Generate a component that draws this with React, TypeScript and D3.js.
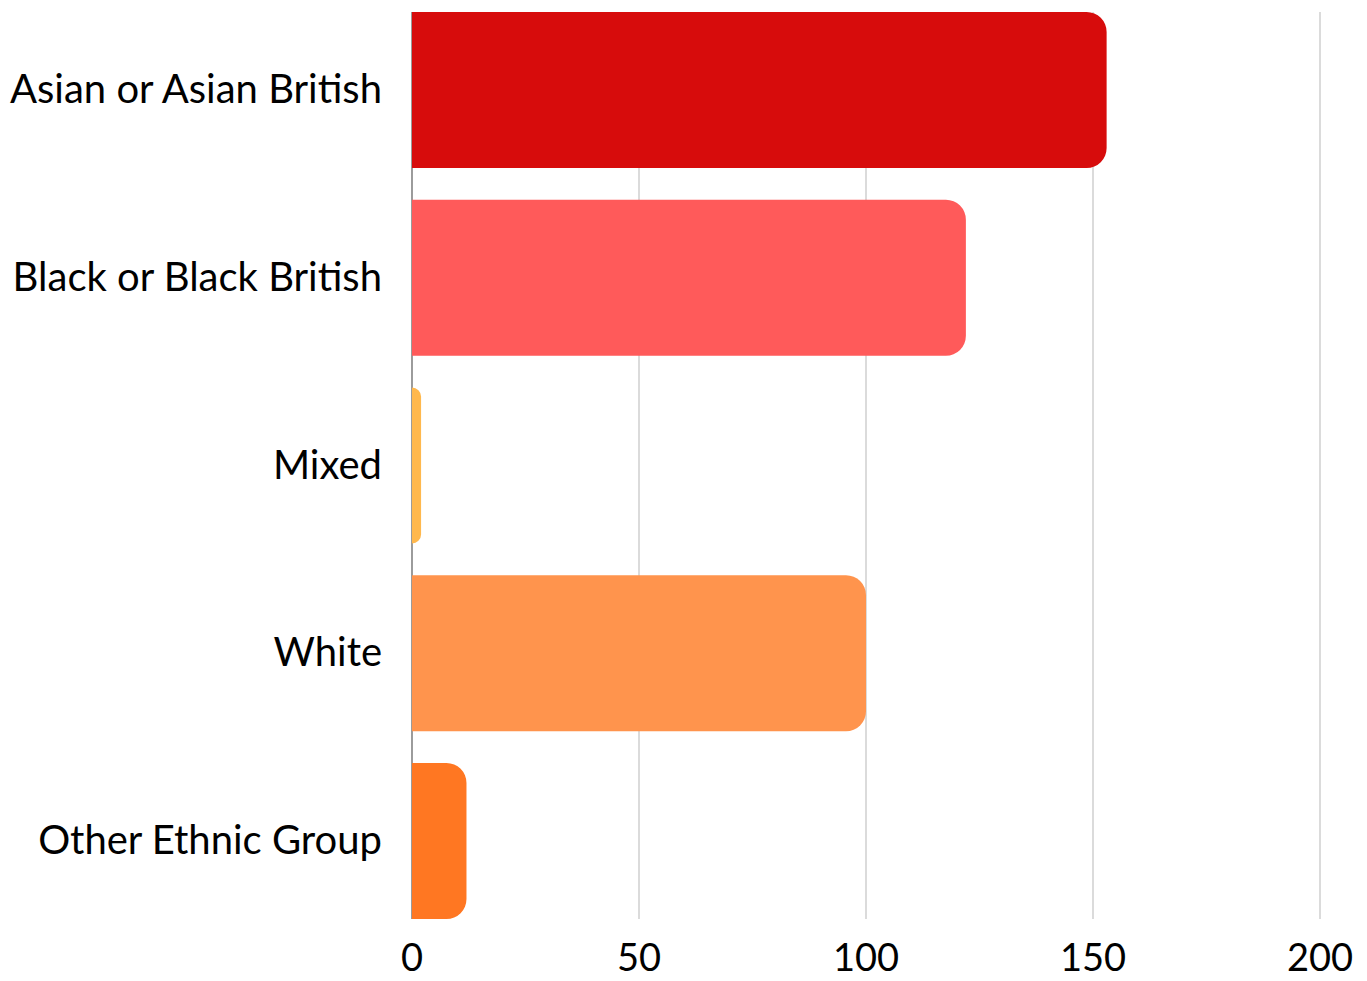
import React from "react";
import * as d3 from "d3";

const categories = ["Asian or Asian British", "Black or Black British", "Mixed", "White", "Other Ethnic Group"];
const values = [153, 122, 2, 100, 12];
const colors = ["#D70C0C", "#FF5A5A", "#FFB84D", "#FF944D", "#FF7722"];
const ticks = [0, 50, 100, 150, 200];

const W = 1367, H = 981;
const left = 412, right = 1320, top = 12, bottom = 919;

function barPath(x0: number, x1: number, y0: number, h: number, rr: number) {
  const w = x1 - x0;
  const r = Math.min(rr, w, h / 2);
  return `M${x0},${y0}H${x1 - r}A${r},${r} 0 0 1 ${x1},${y0 + r}V${y0 + h - r}A${r},${r} 0 0 1 ${x1 - r},${y0 + h}H${x0}Z`;
}

export default function App() {
  const x = d3.scaleLinear().domain([0, 200]).range([left, right]);
  const y = d3.scaleBand<string>().domain(categories).range([top, bottom]).paddingInner(0.169).paddingOuter(0);
  const font = "Lato, 'Open Sans', sans-serif";
  return (
    <svg width={W} height={H} style={{ position: "absolute", left: 0, top: 0 }}>
      <rect width={W} height={H} fill="#fff" />
      {ticks.filter(t => t > 0).map(t => (
        <line key={t} x1={x(t)} x2={x(t)} y1={top} y2={bottom} stroke="#c8c8c8" strokeWidth={1.3} />
      ))}
      <line x1={x(0)} x2={x(0)} y1={top} y2={bottom} stroke="#666" strokeWidth={1.3} />
      {categories.map((c, i) => (
        <path key={c} d={barPath(x(0), x(values[i]), y(c)!, y.bandwidth(), 20)} fill={colors[i]} />
      ))}
      {categories.map(c => (
        <text key={c} x={382} y={y(c)! + y.bandwidth() / 2 + 13} textAnchor="end"
          fontFamily={font} fontSize={40} fill="#000">{c}</text>
      ))}
      {ticks.map(t => (
        <text key={t} x={x(t)} y={971} textAnchor="middle"
          fontFamily={font} fontSize={38} fill="#000">{t}</text>
      ))}
    </svg>
  );
}
